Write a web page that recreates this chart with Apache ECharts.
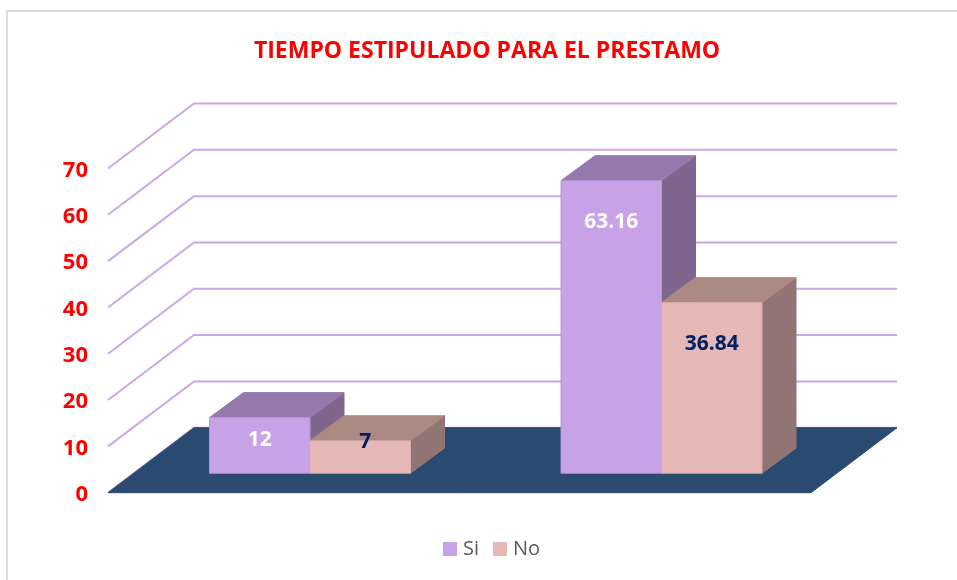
<!DOCTYPE html>
<html><head><meta charset="utf-8">
<script src="https://cdn.jsdelivr.net/npm/echarts@6/dist/echarts.min.js"></script>
<style>
html,body{margin:0;padding:0;background:#fff;overflow:hidden}
#frame{position:absolute;left:6px;top:10px;width:960px;height:600px;border:2px solid #dcdcdc;box-sizing:border-box}
#c{position:absolute;left:0;top:0;width:957px;height:580px}
</style></head><body>
<div id="frame"></div><div id="c"></div>
<script>
const categories = ['A', 'B'];
const siValues = [12, 63.16];
const noValues = [7, 36.84];
const yTicks = [0, 10, 20, 30, 40, 50, 60, 70];

const FONT = '"Open Sans", "Noto Sans", sans-serif';
const GRID = { left: 108, right: 146, top: 168.5, bottom: 87.3 };
const WALL = { dx: 86, dy: -65 };      // floor depth
const INSET = { dx: 26.25, dy: -19.5 };     // bar set back from the front edge
const BOX = { dx: 34, dy: -25 };       // bar depth
const BAR_RATIO = 100.5 / 351.5;
const SI_STYLE = { front: '#c8a2e6', top: '#9679ac', side: '#80668f', stroke: '#b896d4', text: '#ffffff' };
const NO_STYLE = { front: '#e6b8b7', top: '#ac8a84', side: '#917574', stroke: '#d8aaa9', text: '#002060' };
const siLabelDrop = [22, 41];
const noLabelDrop = [1, 41];
const noLabelShift = [5, 0];

function poly(pts, fill, stroke) {
  return { type: 'polygon', shape: { points: pts }, style: { fill, stroke: stroke || fill, lineWidth: 1 }, silent: true };
}
function barItem(side, values, style, drops, shifts) {
  return function (params, api) {
    const i = params.dataIndex;
    const cat = api.value(0), val = api.value(1);
    const p = api.coord([cat, val]), base = api.coord([cat, 0]);
    const band = api.size([1, 0])[0];
    const w = band * BAR_RATIO;
    const xl = p[0] + INSET.dx + (side === 0 ? -w : 0), xr = xl + w;
    const yb = base[1] + INSET.dy, yt = p[1] + INSET.dy;
    const dx = BOX.dx, dy = BOX.dy;
    return { type: 'group', children: [
      poly([[xr, yt], [xr + dx, yt + dy], [xr + dx, yb + dy], [xr, yb]], style.side),
      poly([[xl, yt], [xl + dx, yt + dy], [xr + dx, yt + dy], [xr, yt]], style.top),
      poly([[xl, yt], [xr, yt], [xr, yb], [xl, yb]], style.front, style.stroke),
      { type: 'text', silent: true, z2: 10, style: {
          x: (xl + xr) / 2 + (shifts ? shifts[i] : 0), y: yt + drops[i],
          text: String(val), fill: style.text, font: 'bold 21px ' + FONT,
          align: 'center', verticalAlign: 'middle' } }
    ] };
  };
}

const chart = echarts.init(document.getElementById('c'), null, { renderer: 'canvas' });
chart.setOption({
  animation: false,
  title: { text: 'TIEMPO ESTIPULADO PARA EL PRESTAMO', left: 482, top: 35, textAlign: 'center',
    textStyle: { color: '#ff0000', fontFamily: FONT, fontWeight: 'bold', fontSize: 23 } },
  legend: { bottom: 16, left: 438, icon: 'rect', itemWidth: 14, itemHeight: 14, itemGap: 14,
    data: ['Si', 'No'], selectedMode: false,
    textStyle: { color: '#595959', fontFamily: FONT, fontSize: 20, padding: [0, 0, 0, 1] } },
  grid: GRID,
  xAxis: { type: 'category', data: categories, show: false },
  yAxis: { type: 'value', min: 0, max: 70, interval: 10,
    axisLine: { show: false }, axisTick: { show: false }, splitLine: { show: false },
    axisLabel: { color: '#ff0000', fontFamily: FONT, fontWeight: 'bold', fontSize: 22, margin: 20, verticalAlign: 'top', lineHeight: 4 } },
  series: [
    { type: 'custom', name: 'grid', silent: true, z: 1, data: yTicks.map(v => [0, v]),
      renderItem(params, api) {
        const y = api.coord([0, api.value(1)])[1];
        const x0 = params.coordSys.x, x1 = x0 + params.coordSys.width;
        return { type: 'polyline', silent: true,
          shape: { points: [[x0, y], [x0 + WALL.dx, y + WALL.dy], [x1 + WALL.dx, y + WALL.dy]] },
          style: { stroke: '#c9a8e8', lineWidth: 2, fill: 'none' } };
      } },
    { type: 'custom', name: 'floor', silent: true, z: 2, data: [[0, 0]],
      renderItem(params, api) {
        const y = api.coord([0, 0])[1];
        const x0 = params.coordSys.x, x1 = x0 + params.coordSys.width;
        return { type: 'polygon', silent: true,
          shape: { points: [[x0, y], [x0 + WALL.dx, y + WALL.dy], [x1 + WALL.dx, y + WALL.dy], [x1, y]] },
          style: { fill: '#2b4a70', stroke: '#2b4a70', lineWidth: 1 } };
      } },
    { type: 'custom', name: 'Si', z: 3, itemStyle: { color: SI_STYLE.front },
      data: siValues.map((v, i) => [i, v]),
      renderItem: barItem(0, siValues, SI_STYLE, siLabelDrop) },
    { type: 'custom', name: 'No', z: 4, itemStyle: { color: NO_STYLE.front },
      data: noValues.map((v, i) => [i, v]),
      renderItem: barItem(1, noValues, NO_STYLE, noLabelDrop, noLabelShift) }
  ]
});
</script>
</body></html>
